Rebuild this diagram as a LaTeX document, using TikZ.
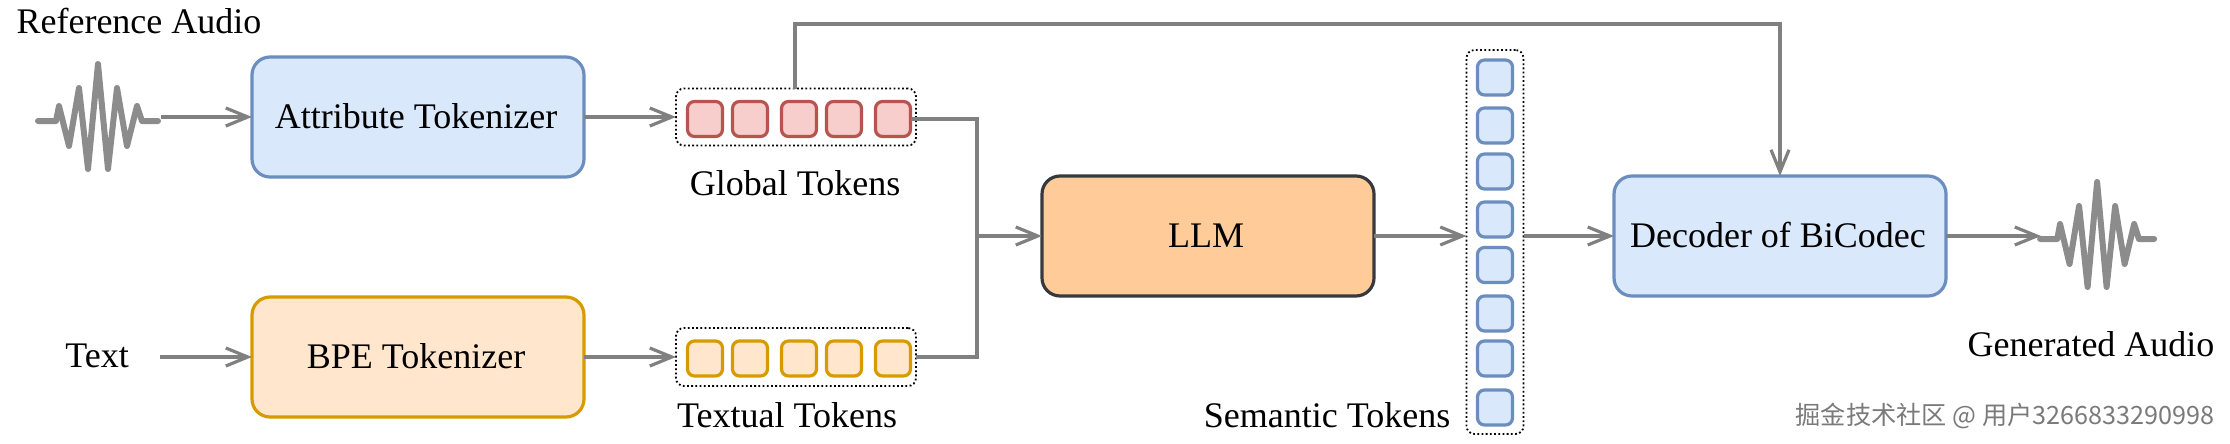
\documentclass[tikz,border=0pt]{standalone}
\usepackage{fontspec}
\setmainfont{Liberation Serif}
\newfontfamily\cjkwm{Noto Sans CJK SC}
\usetikzlibrary{arrows.meta}
\definecolor{blueF}{HTML}{DAE8FC}\definecolor{blueS}{HTML}{6C8EBF}
\definecolor{yelF}{HTML}{FFE6CC}\definecolor{yelS}{HTML}{D79B00}
\definecolor{redF}{HTML}{F8CECC}\definecolor{redS}{HTML}{B85450}
\definecolor{llmF}{HTML}{FFCC99}\definecolor{llmS}{HTML}{36393D}
\definecolor{conn}{HTML}{808080}
\definecolor{wavec}{HTML}{8C8C8C}
\tikzset{
 x=1pt,y=-1pt,
 txt/.style={font=\fontsize{36}{40}\selectfont,text=black,inner sep=0pt,outer sep=0pt},
 lbl/.style={txt,anchor=base},
 boxn/.style={txt,rectangle,rounded corners=18pt,line width=3.2pt,minimum width=332pt,minimum height=120pt,text height=22pt,text depth=0pt,execute at begin node=\kern-4pt},
 tok/.style={rectangle,rounded corners=7pt,line width=3.2pt,minimum width=35pt,minimum height=35pt,inner sep=0pt,outer sep=0pt},
 grp/.style={rectangle,rounded corners=8pt,draw=black,line width=1.8pt,dash pattern=on 1.8pt off 2.4pt,inner sep=0pt,outer sep=0pt},
 conn/.style={draw=conn,line width=3.2pt,-{Straight Barb[length=22pt,width=18pt,line width=3.2pt]}},
 connn/.style={draw=conn,line width=3.2pt},
 wavel/.style={draw=wavec,line width=6pt,line cap=round,line join=round}
}
\newcommand{\wavep}[3]{\draw[wavel,shift={(#1,#2)},xscale=#3] (38,121)--(56,121)--(59,106)--(69,146)--(79,88)--(88,169)--(98,64)--(108,169)--(117,88)--(127,146)--(137,106)--(142,121)--(158,121);}
\begin{document}
\begin{tikzpicture}
\useasboundingbox (0,0) rectangle (2230,444);
% labels
\node[lbl] (refa) at (139,34) {Reference Audio};
\node[txt,minimum width=126pt,text height=20pt,text depth=0pt] (text) at (97,357) {Text};
\node[lbl] (glob) at (795,195) {Global Tokens};
\node[lbl] (textual) at (787,427) {Textual Tokens};
\node[lbl] (sem) at (1327,427) {Semantic Tokens};
\node[lbl] (gen) at (2091,356) {Generated Audio};
\node[anchor=base,inner sep=0pt,font=\cjkwm\fontsize{25.2}{28}\selectfont,text=black!52] (wm) at (2005,424) {掘金技术社区 @ 用户3266833290998};
% main boxes
\node[boxn,draw=blueS,fill=blueF] (attr) at (418,117) {Attribute Tokenizer};
\node[boxn,draw=yelS,fill=yelF] (bpe) at (418,357) {BPE Tokenizer};
\node[boxn,draw=llmS,fill=llmF] (llm) at (1208,236) {LLM};
\node[boxn,draw=blueS,fill=blueF] (dec) at (1780,236) {Decoder of BiCodec};
% token groups
\node[grp,minimum width=240pt,minimum height=57pt] (gg) at (796,117) {};
\node[grp,minimum width=240pt,minimum height=58pt] (tg) at (796,357) {};
\node[grp,minimum width=57pt,minimum height=384pt] (sg) at (1495,242) {};
\foreach \n/\x in {1/705,2/750,3/799,4/844,5/893}{
  \node[tok,draw=redS,fill=redF] (r\n) at (\x,119) {};
  \node[tok,draw=yelS,fill=yelF] (y\n) at (\x,358.5) {};
}
\foreach \n/\y in {1/77.5,2/125.5,3/171.5,4/219.5,5/265,6/313.5,7/358.5,8/407.5}{
  \node[tok,draw=blueS,fill=blueF] (s\n) at (1495,\y) {};
}
% waveforms
\wavep{0}{0}{1}
\wavep{2004}{118}{0.95}
\coordinate (w1out) at (161,117);
\coordinate (w2in) at (2041,236);
\coordinate (merge) at (977,236);
% connectors
\draw[conn] (w1out) -- (attr.west);
\draw[conn] (text.east) -- (bpe.west);
\draw[conn] (attr.east) -- (gg.west);
\draw[conn] (bpe.east) -- (tg.west);
\draw[connn] (r5.east) -- (merge |- r5.east) -- (merge);
\draw[connn] (tg.east) -- (merge |- tg.east) -- (merge);
\draw[conn] (merge) -- (llm.west);
\draw[conn] (llm.east) -- (sg.west |- llm.east);
\draw[conn] (sg.east |- dec.west) -- (dec.west);
\draw[conn] (dec.east) -- (w2in);
\draw[conn] (gg.north -| glob) -- (795,24) -- (dec.north |- 0,24) -- (dec.north);
\end{tikzpicture}
\end{document}
